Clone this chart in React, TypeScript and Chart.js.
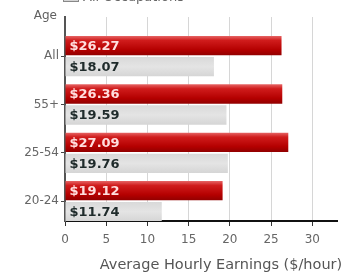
import React, { useEffect, useRef } from "react";
import { Chart, registerables } from "chart.js";

Chart.register(...registerables);

const categories = ["All", "55+", "25-54", "20-24"];
const seriesNames = ["Selected Occupation", "All Occupations"];
const selectedValues = [26.27, 26.36, 27.09, 19.12];
const allOccValues = [18.07, 19.59, 19.76, 11.74];
const xTicks = [0, 5, 10, 15, 20, 25, 30];
const yAxisTitle = "Age";
const xAxisTitle = "Average Hourly Earnings ($/hour)";
const legendLabel = "All Occupations";

const FONT = "'DejaVu Sans', Verdana, sans-serif";

function centerOf(ctx: any): number | null {
  const chart = ctx.chart;
  const ys = chart.scales && chart.scales.y;
  if (ctx.type !== "data" || !ys) return null;
  const c = ys.getPixelForValue(ctx.dataIndex);
  return Number.isFinite(c) ? c : null;
}

function redFill(ctx: any) {
  const c = centerOf(ctx);
  if (c === null) return "#b80000";
  const g = ctx.chart.ctx.createLinearGradient(0, c - 21, 0, c);
  g.addColorStop(0, "#ea7272");
  g.addColorStop(0.25, "#d01c1c");
  g.addColorStop(0.7, "#b40000");
  g.addColorStop(1, "#8c0000");
  return g;
}

function grayFill(ctx: any) {
  const c = centerOf(ctx);
  if (c === null) return "#dcdcdc";
  const g = ctx.chart.ctx.createLinearGradient(0, c, 0, c + 21);
  g.addColorStop(0, "#d8d8d8");
  g.addColorStop(0.5, "#e4e4e4");
  g.addColorStop(1, "#d4d4d4");
  return g;
}

const valueLabels = {
  id: "valueLabels",
  afterDatasetsDraw(chart: any) {
    const ctx = chart.ctx;
    ctx.save();
    ctx.font = `bold 13px ${FONT}`;
    ctx.textAlign = "left";
    ctx.textBaseline = "middle";
    chart.data.datasets.forEach((ds: any, di: number) => {
      const meta = chart.getDatasetMeta(di);
      meta.data.forEach((el: any, i: number) => {
        const v = ds.data[i].x;
        ctx.fillStyle = di === 0 ? "#ffdede" : "#1f2b2b";
        ctx.fillText("$" + v.toFixed(2), el.base + 4, el.y + 1);
      });
    });
    ctx.restore();
  },
};

const extraText = {
  id: "extraText",
  afterDraw(chart: any) {
    const ctx = chart.ctx;
    const area = chart.chartArea;
    ctx.save();
    ctx.font = `12px ${FONT}`;
    ctx.fillStyle = "#606060";
    ctx.textAlign = "right";
    ctx.textBaseline = "middle";
    ctx.fillText(yAxisTitle, area.left - 8, area.top - 1);
    ctx.font = `14.5px ${FONT}`;
    ctx.fillStyle = "#555";
    ctx.textAlign = "center";
    ctx.fillText(xAxisTitle, 221, 265);
    ctx.fillStyle = "#d4d4d4";
    ctx.fillRect(63, -6, 15, 8);
    ctx.strokeStyle = "#888";
    ctx.lineWidth = 1;
    ctx.strokeRect(63.5, -6.5, 15, 8);
    ctx.font = `13px ${FONT}`;
    ctx.fillStyle = "#666";
    ctx.textAlign = "left";
    ctx.textBaseline = "alphabetic";
    ctx.fillText(legendLabel, 83, 1);
    ctx.restore();
  },
};

export default function App() {
  const ref = useRef<HTMLCanvasElement | null>(null);

  useEffect(() => {
    if (!ref.current) return;
    const chart = new Chart(ref.current, {
      type: "bar",
      data: {
        datasets: [
          {
            label: seriesNames[0],
            data: selectedValues.map((v, i) => ({ x: v, y: i })),
            backgroundColor: redFill as any,
            borderWidth: 0,
            categoryPercentage: 0.87,
            barPercentage: 0.92,
          },
          {
            label: seriesNames[1],
            data: allOccValues.map((v, i) => ({ x: v, y: i })),
            backgroundColor: grayFill as any,
            borderWidth: 0,
            categoryPercentage: 0.87,
            barPercentage: 0.92,
          },
        ],
      } as any,
      options: {
        indexAxis: "y",
        responsive: false,
        animation: false,
        layout: { padding: { top: 17, right: 12, left: 0, bottom: 0 } },
        plugins: {
          legend: { display: false },
          tooltip: { enabled: false },
        },
        scales: {
          x: {
            type: "linear",
            position: "bottom",
            min: 0,
            max: 33,
            afterBuildTicks: (s: any) => {
              s.ticks = xTicks.map((v) => ({ value: v }));
            },
            afterFit: (s: any) => {
              s.height = 53;
            },
            grid: {
              color: "#d6d6d6",
              lineWidth: 1,
              drawTicks: true,
              tickLength: 5,
              tickColor: "#333",
            },
            border: { color: "#111", width: 2 },
            ticks: {
              font: { family: FONT, size: 12 },
              color: "#666",
              padding: 7,
              maxRotation: 0,
            },
          },
          y: {
            type: "linear",
            reverse: true,
            offset: false,
            min: -0.81,
            max: 3.41,
            afterBuildTicks: (s: any) => {
              s.ticks = categories.map((_, i) => ({ value: i }));
            },
            afterFit: (s: any) => {
              s.width = 65;
            },
            grid: {
              offset: false,
              drawOnChartArea: false,
              drawTicks: true,
              tickLength: 4,
              tickColor: "#444",
            },
            border: { color: "#555", width: 2 },
            ticks: {
              font: { family: FONT, size: 12 },
              color: "#666",
              padding: 2,
              callback: (v: any) => categories[Math.round(Number(v))] ?? "",
            },
          },
        },
      } as any,
      plugins: [valueLabels, extraText],
    });
    return () => chart.destroy();
  }, []);

  return (
    <div style={{ position: "fixed", left: 0, top: 0, width: 349, height: 274, background: "#fff" }}>
      <canvas ref={ref} width={349} height={274} style={{ width: 349, height: 274, display: "block" }} />
    </div>
  );
}
